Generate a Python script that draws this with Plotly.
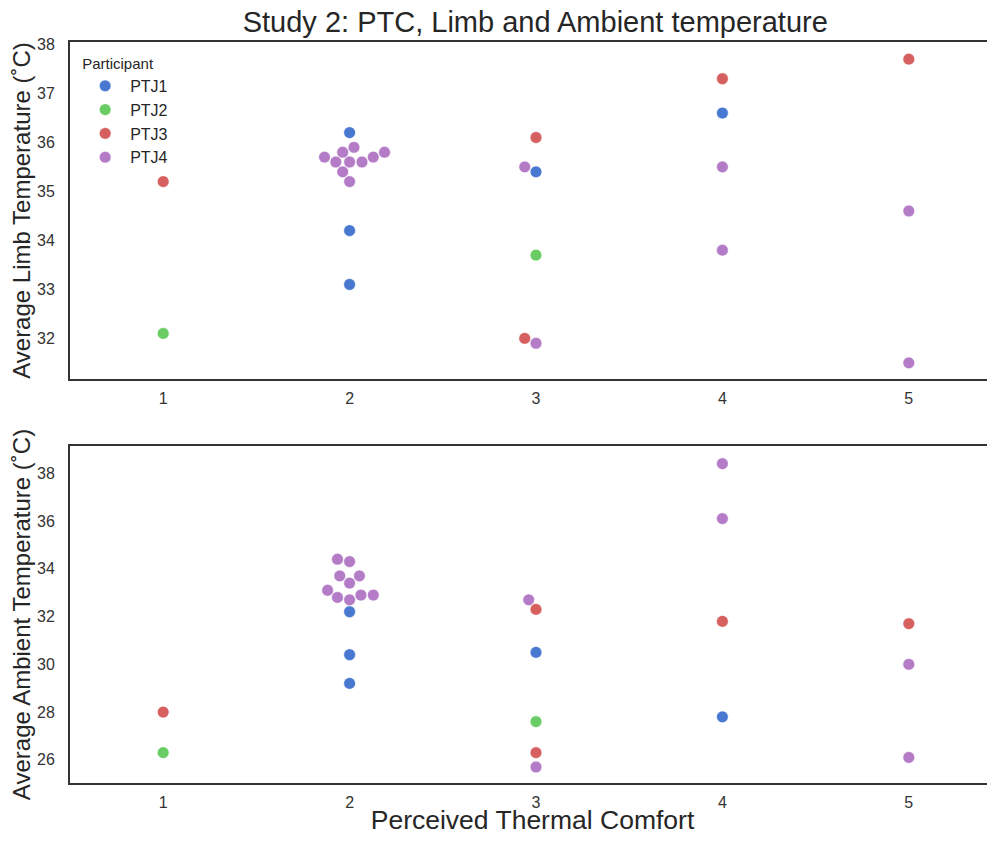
import numpy as np
import plotly.graph_objects as go

# ---------------- data ----------------
participants = ["PTJ1", "PTJ2", "PTJ3", "PTJ4"]
colors = ["#4878CF", "#6ACC65", "#D65F5F", "#B47CC7"]

ptj1_ptc = [2, 2, 2, 3, 4]
ptj1_limb = [36.2, 34.2, 33.1, 35.4, 36.6]
ptj1_amb = [32.2, 30.4, 29.2, 30.5, 27.8]

ptj2_ptc = [1, 3]
ptj2_limb = [32.1, 33.7]
ptj2_amb = [26.3, 27.6]

ptj3_ptc = [1, 3, 3, 4, 5]
ptj3_limb = [35.2, 36.1, 32.0, 37.3, 37.7]
ptj3_amb = [28.0, 32.3, 26.3, 31.8, 31.7]

ptj4_ptc = [2, 2, 2, 2, 2, 2, 2, 2, 2, 2, 3, 3, 4, 4, 5, 5]
ptj4_limb = [35.7, 35.6, 35.8, 35.6, 35.9, 35.6, 35.7, 35.8, 35.4, 35.2,
             35.5, 31.9, 35.5, 33.8, 34.6, 31.5]
ptj4_amb = [34.4, 34.3, 33.7, 33.7, 33.4, 33.1, 32.8, 32.7, 32.9, 32.9,
            32.7, 25.7, 38.4, 36.1, 30.0, 26.1]

ptc_ticks = [1, 2, 3, 4, 5]
limb_ticks = [32, 33, 34, 35, 36, 37, 38]
amb_ticks = [26, 28, 30, 32, 34, 36, 38]

ptc_all = [ptj1_ptc, ptj2_ptc, ptj3_ptc, ptj4_ptc]
limb_all = [ptj1_limb, ptj2_limb, ptj3_limb, ptj4_limb]
amb_all = [ptj1_amb, ptj2_amb, ptj3_amb, ptj4_amb]

# ---------------- layout geometry ----------------
# (page body has an 8px margin, so the figure is smaller and shifted)
W, H = 987, 827
ML, MR, MT, MB = 62, 0, 34, 52
plot_w = W - ML - MR
plot_h = H - MT - MB
top_dom = [0.5452, 1.0]
bot_dom = [0.0, 0.4548]
x_range = [0.5, 0.5 + plot_w / 186.4]
limb_range = [31.17, 38.05]
amb_range = [25.03, 39.14]

px_per_x = plot_w / (x_range[1] - x_range[0])
px_top = plot_h * (top_dom[1] - top_dom[0]) / (limb_range[1] - limb_range[0])
px_bot = plot_h * (bot_dom[1] - bot_dom[0]) / (amb_range[1] - amb_range[0])
DIAM = 11.8


def beeswarm(ys_px, r):
    """seaborn-style swarm: returns x offsets (px) in original order."""
    order = np.argsort(ys_px, kind="stable")
    out = np.zeros(len(ys_px))
    swarm = []
    for k, idx in enumerate(order):
        y = ys_px[idx]
        if k == 0:
            swarm.append((0.0, y))
            out[idx] = 0.0
            continue
        neighbors = []
        for (xj, yj) in reversed(swarm):
            if (y - yj) < 2 * r:
                neighbors.append((xj, yj))
            else:
                break
        neighbors = list(reversed(neighbors))
        cands = [0.0]
        left_first = True
        for (xj, yj) in neighbors:
            dy = y - yj
            dx = np.sqrt(max((2 * r) ** 2 - dy ** 2, 0)) * 1.05
            pair = [xj - dx, xj + dx] if left_first else [xj + dx, xj - dx]
            cands.extend(pair)
            left_first = not left_first
        cands = np.array(cands)
        cands = cands[np.argsort(np.abs(cands), kind="stable")]
        chosen = cands[0]
        for c in cands:
            ok = all((c - xj) ** 2 + (y - yj) ** 2 >= (2 * r) ** 2 - 1e-9
                     for (xj, yj) in neighbors)
            if ok:
                chosen = c
                break
        swarm.append((chosen, y))
        out[idx] = chosen
    return out


def swarm_positions(values_all, px_per_y):
    xs_flat, ys_flat, who = [], [], []
    for p, (pt, vals) in enumerate(zip(ptc_all, values_all)):
        for xv, yv in zip(pt, vals):
            xs_flat.append(xv)
            ys_flat.append(yv)
            who.append(p)
    xs_flat = np.array(xs_flat, float)
    ys_flat = np.array(ys_flat, float)
    who = np.array(who)
    xpos = xs_flat.copy()
    for c in np.unique(xs_flat):
        m = xs_flat == c
        offs = beeswarm(ys_flat[m] * px_per_y, DIAM / 2)
        xpos[m] = c + offs / px_per_x
    return xpos, ys_flat, who


fig = go.Figure()
FONT = "Liberation Sans, Arial, sans-serif"
TXT = "#262626"

for vals, ppy, xa, ya, show in [(limb_all, px_top, "x", "y", True),
                                 (amb_all, px_bot, "x2", "y2", False)]:
    xpos, yv, who = swarm_positions(vals, ppy)
    for p, name in enumerate(participants):
        m = who == p
        fig.add_trace(go.Scatter(
            x=xpos[m], y=yv[m], mode="markers", name=name,
            legendgroup=name, showlegend=show, xaxis=xa, yaxis=ya,
            marker=dict(color=colors[p], size=DIAM,
                        line=dict(color="white", width=0.6)),
        ))

axis_common = dict(showgrid=False, zeroline=False, showline=True,
                   linecolor="#333333", linewidth=2, ticks="",
                   automargin=False,
                   tickfont=dict(family=FONT, size=16, color="#333333"))

fig.update_layout(
    width=W, height=H,
    margin=dict(l=ML, r=MR, t=MT, b=MB),
    paper_bgcolor="white", plot_bgcolor="white",
    font=dict(family=FONT, color=TXT),
    title=dict(text="Study 2: PTC, Limb and Ambient temperature",
               x=0.503, xref="paper", y=1 - 14 / H, yref="container",
               xanchor="center", yanchor="middle",
               font=dict(family=FONT, size=29, color=TXT)),
    legend=dict(title=dict(text="Participant", font=dict(size=15, color=TXT)),
                x=0.011, y=0.99, xanchor="left", yanchor="top",
                font=dict(family=FONT, size=16, color=TXT),
                bgcolor="rgba(0,0,0,0)", tracegroupgap=0, itemwidth=40),
    xaxis=dict(domain=[0, 1], range=x_range, anchor="y", mirror=True,
               tickvals=ptc_ticks, ticklabelstandoff=4, **axis_common),
    yaxis=dict(domain=top_dom, range=limb_range, anchor="x",
               tickvals=limb_ticks, ticklabelstandoff=10,
               title=dict(text="Average Limb Temperature (˚C)", standoff=0,
                          font=dict(family=FONT, size=24, color=TXT)),
               **axis_common),
    xaxis2=dict(domain=[0, 1], range=x_range, anchor="y2", mirror=True,
                tickvals=ptc_ticks, ticklabelstandoff=4,
                title=dict(text="Perceived Thermal Comfort", standoff=6,
                           font=dict(family=FONT, size=26.5, color=TXT)),
                **axis_common),
    yaxis2=dict(domain=bot_dom, range=amb_range, anchor="x2",
                tickvals=amb_ticks, ticklabelstandoff=10,
                title=dict(text="Average Ambient Temperature (˚C)", standoff=0,
                           font=dict(family=FONT, size=24, color=TXT)),
                **axis_common),
)

fig.write_html("out.html")
